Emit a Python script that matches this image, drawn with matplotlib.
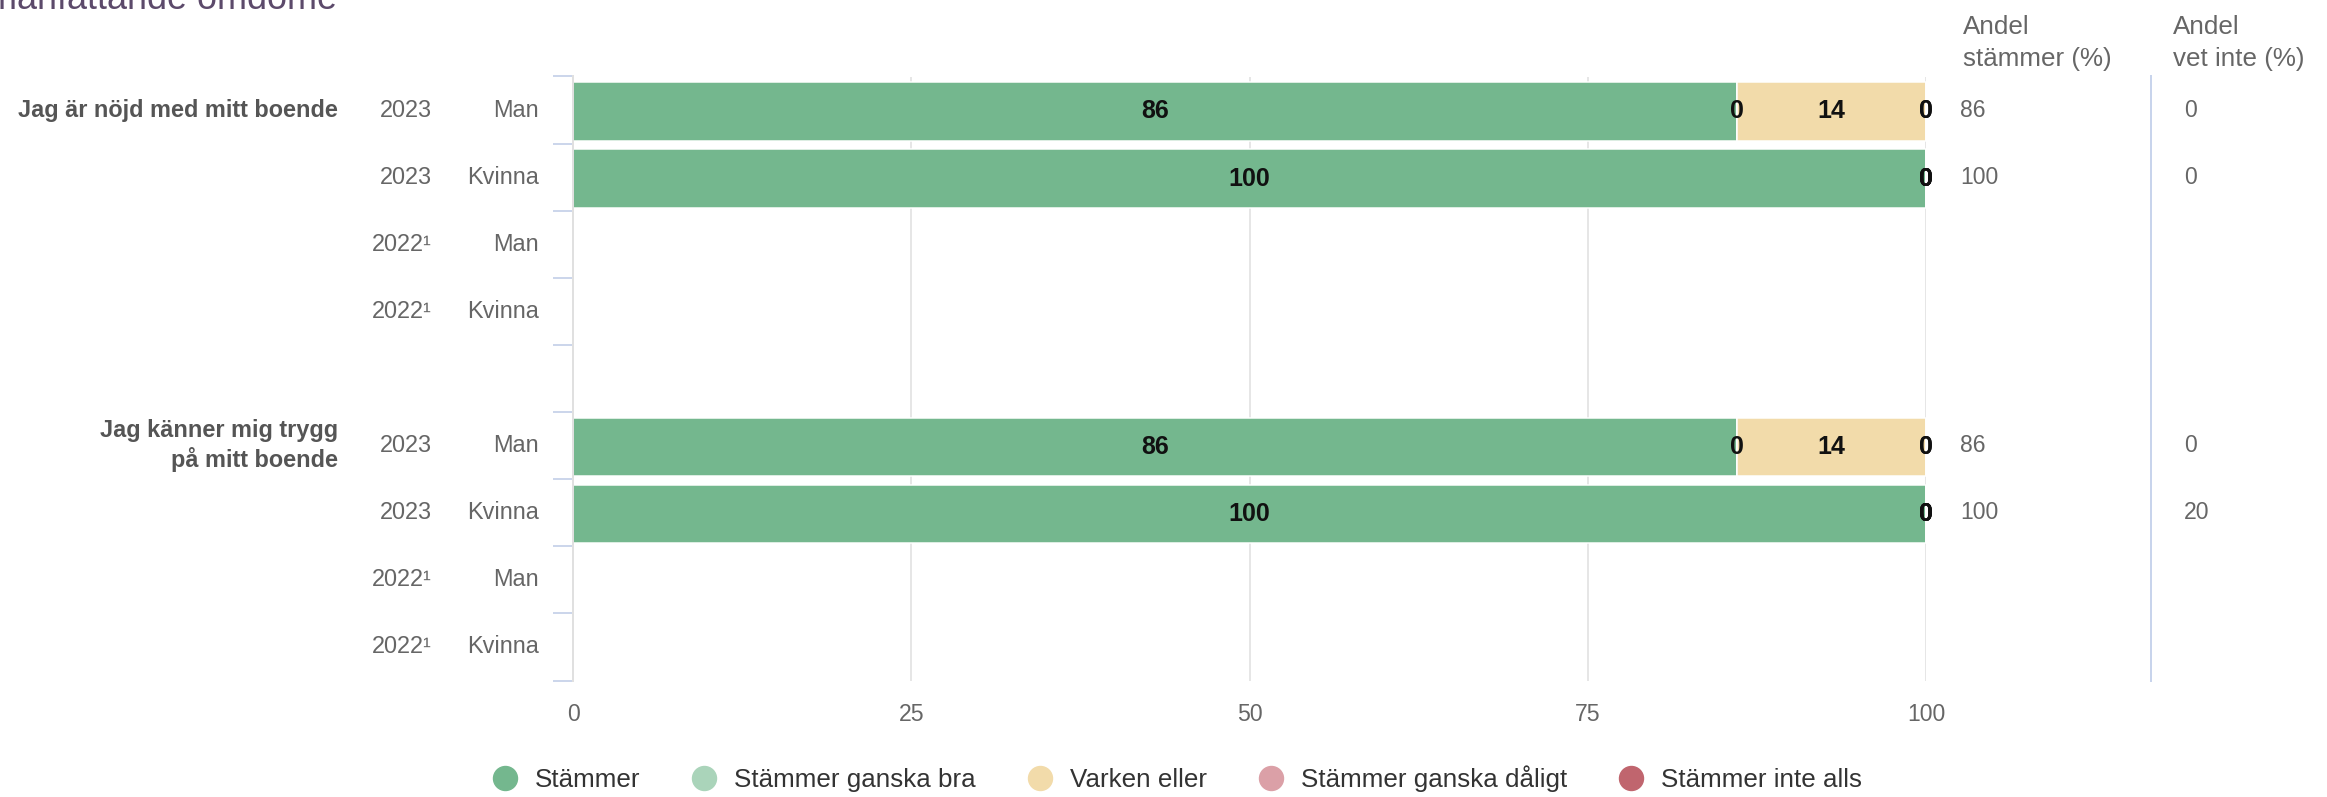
import numpy as np
import matplotlib
matplotlib.use("Agg")
import matplotlib.pyplot as plt
from matplotlib.lines import Line2D
from matplotlib.transforms import blended_transform_factory

plt.rcParams['font.family'] = ['Liberation Sans', 'DejaVu Sans']

# ---------------- data ----------------
title = "Sammanfattande omdöme"
questions = ["Jag är nöjd med mitt boende", "Jag känner mig trygg\npå mitt boende"]
years = ["2023", "2023", "2022¹", "2022¹"]
genders = ["Man", "Kvinna", "Man", "Kvinna"]
series_names = ["Stämmer", "Stämmer ganska bra", "Varken eller",
                "Stämmer ganska dåligt", "Stämmer inte alls"]
series_colors = ["#74b78e", "#aad4ba", "#f2dbaa", "#dba0a7", "#c0656e"]
nan = np.nan
stammer = [86, 100, nan, nan, 86, 100, nan, nan]
ganska_bra = [0, 0, nan, nan, 0, 0, nan, nan]
varken_eller = [14, 0, nan, nan, 14, 0, nan, nan]
ganska_daligt = [0, 0, nan, nan, 0, 0, nan, nan]
inte_alls = [0, 0, nan, nan, 0, 0, nan, nan]
andel_stammer = [86, 100, None, None, 86, 100, None, None]
andel_vet_inte = [0, 0, None, None, 0, 20, None, None]
col_headers = ["Andel\nstämmer (%)", "Andel\nvet inte (%)"]
x_ticks = [0, 25, 50, 75, 100]

# ---------------- layout ----------------
W, H = 2327, 797
PX = 0.72  # points per pixel at dpi 100
fig = plt.figure(figsize=(W / 100, H / 100), dpi=100)
ax_l, ax_r, ax_t, ax_b = 573, 1926, 76.5, 680.5
ax = fig.add_axes([ax_l / W, 1 - ax_b / H, (ax_r - ax_l) / W, (ax_b - ax_t) / H])

n_rows = len(years)
ypos = []
for g in range(len(questions)):
    for r in range(n_rows):
        ypos.append(g * (n_rows + 1) + r)
ypos = np.array(ypos, dtype=float)
n_bands = len(questions) * (n_rows + 1) - 1

all_series = [stammer, ganska_bra, varken_eller, ganska_daligt, inte_alls]
left = np.zeros(len(ypos))
for vals, color in zip(all_series, series_colors):
    v = np.array(vals, dtype=float)
    ax.barh(ypos + 0.02, np.nan_to_num(v), left=left, height=0.87, color=color,
            edgecolor='white', linewidth=1.0 * PX * 1.5, zorder=2)
    for yy, l, val in zip(ypos, left, v):
        if not np.isnan(val):
            ax.text(l + val / 2, yy + 0.02, f"{val:g}", ha='center', va='center',
                    fontsize=25 * PX, fontweight='bold', color='#111111', zorder=5)
    left = left + np.nan_to_num(v)

ax.set_xlim(0, 100)
ax.set_ylim(n_bands - 0.5, -0.5)
ax.set_xticks(x_ticks)
ax.set_xticklabels([str(t) for t in x_ticks])
ax.set_yticks(np.arange(-0.5, n_bands, 1.0))
ax.set_yticklabels([])
ax.tick_params(axis='x', length=0, pad=16, labelsize=23 * PX, labelcolor='#666666')
ax.tick_params(axis='y', length=20 * PX, width=2 * PX, color='#ccd6eb')
for s in ['top', 'right', 'bottom']:
    ax.spines[s].set_visible(False)
ax.spines['left'].set_color('#e0e0e0')
ax.spines['left'].set_linewidth(2 * PX)
ax.spines['left'].set_zorder(3)
ax.xaxis.grid(True, color='#e6e6e6', linewidth=2 * PX)
ax.set_axisbelow(True)

# row labels
for i, yy in enumerate(ypos):
    r = i % n_rows
    ax.annotate(genders[r], xy=(0, yy), xycoords=('axes fraction', 'data'),
                xytext=(-34 * PX, 0), textcoords='offset points',
                ha='right', va='center', fontsize=23.5 * PX, color='#666666')
    ax.annotate(years[r], xy=(0, yy), xycoords=('axes fraction', 'data'),
                xytext=(-141 * PX, 0), textcoords='offset points',
                ha='right', va='center', fontsize=23.5 * PX, color='#666666')
for g, q in enumerate(questions):
    ax.annotate(q, xy=(0, ypos[g * n_rows]), xycoords=('axes fraction', 'data'),
                xytext=(-235 * PX, 0), textcoords='offset points',
                ha='right', va='center', multialignment='right', linespacing=1.25,
                fontsize=23.5 * PX, fontweight='bold', color='#555555')

# right-hand columns
col_val_off = [34, 258]
col_head_x = [1963, 2173]
for c, (vals, off) in enumerate(zip([andel_stammer, andel_vet_inte], col_val_off)):
    for yy, val in zip(ypos, vals):
        if val is not None:
            ax.annotate(f"{val}", xy=(1, yy), xycoords=('axes fraction', 'data'),
                        xytext=(off * PX, 0), textcoords='offset points',
                        ha='left', va='center', fontsize=23 * PX, color='#666666')
    fig.text(col_head_x[c] / W, 1 - 43 / H, col_headers[c], ha='left', va='center',
             fontsize=26 * PX, color='#666666', linespacing=1.45)

sep_tr = blended_transform_factory(ax.transAxes, ax.transData)
sep_x = 1 + (2151 - ax_r) / (ax_r - ax_l)
ax.add_line(Line2D([sep_x, sep_x], [-0.5, n_bands - 0.5], transform=sep_tr,
                   color='#c8d4ec', linewidth=2 * PX, clip_on=False))

# title (cut off at top-left as in the reference)
fig.text(337 / W, 1 - 9 / H, title, ha='right', va='baseline',
         fontsize=36 * PX, color='#5c4a6b')

# legend
handles = [Line2D([], [], marker='o', linestyle='', markersize=24 * PX,
                  markerfacecolor=c, markeredgecolor=c) for c in series_colors]
fig.legend(handles, series_names, loc='center', bbox_to_anchor=(1177 / W, 1 - 779 / H),
           ncol=5, frameon=False, fontsize=26 * PX, handlelength=1.0,
           handletextpad=0.65, columnspacing=1.97, labelcolor='#333333')

fig.savefig("out.png", dpi=100)
